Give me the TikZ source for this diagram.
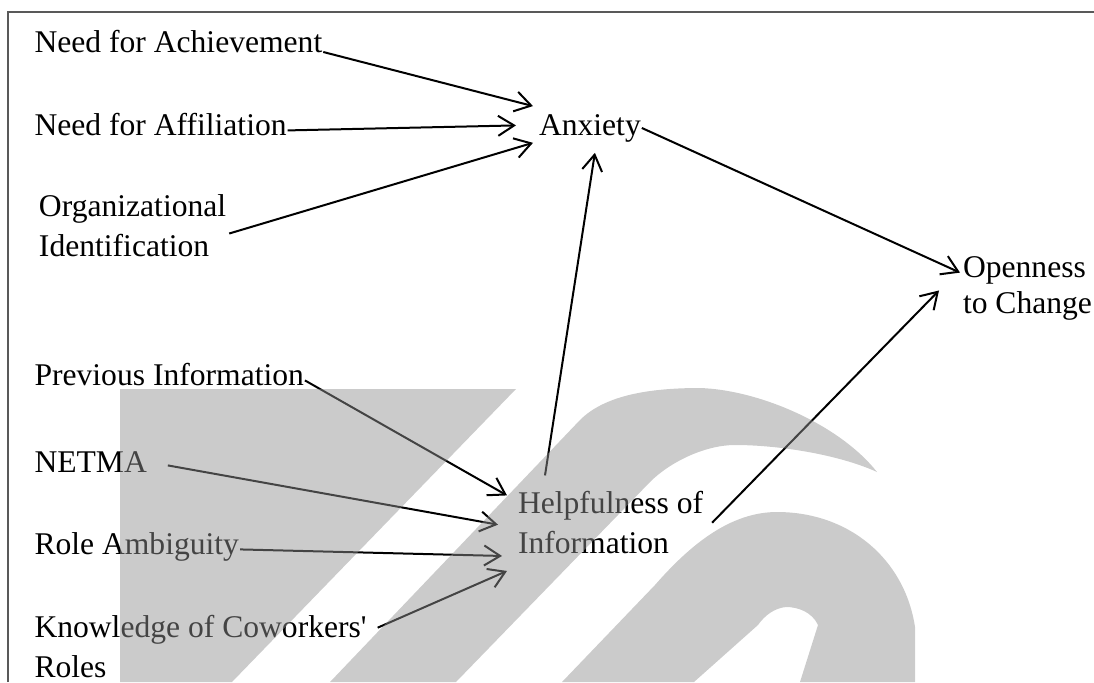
\documentclass[tikz,border=0pt]{standalone}
\usepackage{fontspec}
\setmainfont{Liberation Serif}
\usetikzlibrary{arrows.meta}

\begin{document}
\begin{tikzpicture}[->,>={Straight Barb[length=8pt,width=10pt]},line width=1pt,
                    x=0.5pt,y=-0.5pt]

  \tikzstyle{every node}=[inner sep=0pt,align=left,font=\fontsize{15.8}{20}\selectfont]
  \tikzstyle{oneline}=[anchor=base west]
  \tikzstyle{twoline}=[anchor=north west]

  \useasboundingbox (0,0) rectangle (1094,682);
  \draw[-,black!65] (8,682) -- (8,12) -- (1094,12);

  \node[oneline] (ACH) at (33.5,52)    {Need for Achievement};
  \node[oneline] (AFF) at (33.5,135)   {Need for Affiliation};
  \node[twoline] (ORG) at (38,193.4)   {Organizational \\ Identification};
  \node[oneline] (ANX) at (538,135)    {Anxiety};
  \node[twoline,font=\fontsize{15.8}{18}\selectfont]
                 (OPN) at (962,255.6)  {Openness \\ to Change};

  \node[oneline] (PRV) at (33.5,385)   {Previous Information};
  \node[oneline] (NET) at (33.5,472)   {NETMA};
  \node[oneline] (ROL) at (33.5,554)   {Role Ambiguity};
  \node[twoline] (KNW) at (33.5,614.4) {Knowledge of Coworkers\textquotesingle \\ Roles};
  \node[twoline] (HLP) at (517,490.4)  {Helpfulness of \\ Information};

  \path
  (ACH.base east)                 edge ([shift={(-5,-7)}]ANX.north west)
  (AFF.mid east)                  edge ([shift={(-22,-5)}]ANX.mid west)
  ([shift={(2,8)}]ORG.east)       edge ([shift={(-5,0)}]ANX.south west)
  ([shift={(28,-15)}]HLP.north west) edge ([shift={(5,10)}]ANX.south)
  (ANX.east)                      edge ([shift={(-2,17)}]OPN.north west)
  ([shift={(8,0)}]HLP.east)       edge ([shift={(-23,2)}]OPN.west)

  (PRV.mid east)                  edge ([shift={(-10,5)}]HLP.north west)
  ([shift={(20,-2)}]NET.mid east) edge ([shift={(-19,2)}]HLP.west)
  (ROL.mid east)                  edge ([shift={(-15,1)}]HLP.south west)
  ([shift={(10,-19)}]KNW.east)    edge ([shift={(-10,16)}]HLP.south west)
  ;

  % grey watermark laid over the lower half
  \fill[-,black!43,fill opacity=0.47]
    (120,389) -- (516,389) -- (232,682) -- (120,682) -- cycle
    (330,682) -- (580,420) .. controls (605,395) and (650,388) .. (700,388)
      .. controls (760,390) and (840,425) .. (877,472)
      .. controls (840,455) and (780,445) .. (735,445)
      .. controls (705,445) and (670,462) .. (650,482) -- (456,682) -- cycle
    (562,682) -- (655,585) .. controls (690,545) and (730,512) .. (777,512)
      .. controls (850,512) and (905,560) .. (915,627) -- (915,682) -- (800,682)
      -- (818,625) .. controls (812,612) and (798,607) .. (786,607)
      .. controls (775,608) and (765,615) .. (758,625) -- (694,682) -- cycle;
\end{tikzpicture}
\end{document}
